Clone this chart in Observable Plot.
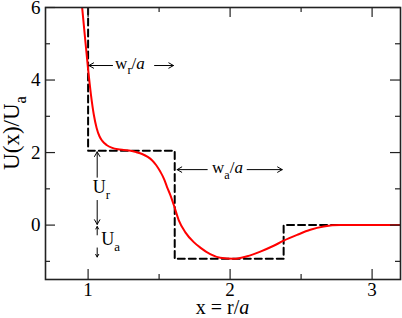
<!DOCTYPE html>
<html><head><meta charset="utf-8">
<script src="https://cdn.jsdelivr.net/npm/d3@7"></script>
<script src="https://cdn.jsdelivr.net/npm/@observablehq/plot@0.6"></script>
<style>
html,body{margin:0;padding:0;background:#fff;}
svg{display:block}
</style></head><body><div id="chart"></div>
<script>
// axis domains and ticks
const xDomain = [0.7, 3.2];
const yDomain = [-1.5, 6];
const xTicks = [1, 2, 3];
const xMinor = [1.5, 2.5];
const yTicks = [0, 2, 4, 6];
const yMinor = [-1, 1, 3, 5];

// red potential curve U(x)/Ua
const curveX = [0.958, 0.98, 1.0, 1.02, 1.04, 1.06, 1.08, 1.10, 1.13, 1.17, 1.21, 1.25, 1.30, 1.34, 1.38, 1.42, 1.45, 1.48, 1.509, 1.535, 1.556, 1.58, 1.603, 1.638, 1.685, 1.744, 1.79, 1.86, 1.93, 2.025, 2.12, 2.213, 2.307, 2.377, 2.472, 2.565, 2.659, 2.777, 2.9, 3.05, 3.2];
const curveY = [6.0, 5.1, 4.3, 3.6, 3.05, 2.68, 2.45, 2.32, 2.21, 2.13, 2.09, 2.07, 2.05, 2.01, 1.96, 1.88, 1.79, 1.65, 1.47, 1.27, 1.05, 0.82, 0.56, 0.14, -0.2, -0.47, -0.62, -0.8, -0.9, -0.93, -0.86, -0.73, -0.57, -0.43, -0.27, -0.13, -0.04, 0.0, 0.0, 0.0, 0.0];

// dashed square-well step potential
const stepX = [1.0, 1.0, 1.61, 1.61, 2.377, 2.377, 3.2];
const stepY = [6.0, 2.05, 2.05, -0.93, -0.93, 0, 0];

// annotation arrows (data units)
const arrowX1 = [1.172, 1.468, 1.839, 2.120, 1.064, 1.064, 1.064, 1.064];
const arrowY1 = [4.40, 4.40, 1.53, 1.53, 1.32, 0.68, -0.27, -0.63];
const arrowX2 = [1.006, 1.601, 1.627, 2.367, 1.064, 1.064, 1.064, 1.064];
const arrowY2 = [4.40, 4.40, 1.53, 1.53, 2.02, 0.02, -0.04, -0.88];

// annotation labels
const annX = [1.298, 1.985, 1.036, 1.097];
const annY = [4.30, 1.41, 0.86, -0.57];
const annAnchor = ["middle", "middle", "start", "start"];
const annParts = [
  [{t: "w"}, {t: "r", sub: true}, {t: "/"}, {t: "a", it: true}],
  [{t: "w"}, {t: "a", sub: true}, {t: "/"}, {t: "a", it: true}],
  [{t: "U"}, {t: "r", sub: true}],
  [{t: "U"}, {t: "a", sub: true}]
];
const annSize = [17, 17, 18, 18];

const curve = curveX.map((x, i) => ({x, y: curveY[i]}));
const step = stepX.map((x, i) => ({x, y: stepY[i]}));
const arrows = arrowX1.map((x1, i) => ({x1, y1: arrowY1[i], x2: arrowX2[i], y2: arrowY2[i]}));

const W = 402, H = 318, mL = 45, mR = 2, mT = 7, mB = 39;
const fw = W - mL - mR, fh = H - mT - mB;
const serif = "'Liberation Serif', 'Times New Roman', serif";

const chart = Plot.plot({
  width: W, height: H,
  marginLeft: mL, marginRight: mR, marginTop: mT, marginBottom: mB,
  x: {domain: xDomain},
  y: {domain: yDomain},
  style: {fontFamily: serif, background: "white", color: "black", overflow: "visible"},
  marks: [
    Plot.line(step, {x: "x", y: "y", stroke: "black", strokeWidth: 2, strokeDasharray: "7,4", clip: true}),
    Plot.line(curve, {x: "x", y: "y", stroke: "#ff0000", strokeWidth: 2, curve: "monotone-x", clip: true}),
    Plot.arrow(arrows, {x1: "x1", y1: "y1", x2: "x2", y2: "y2", stroke: "black", strokeWidth: 1, headLength: 8, headAngle: 60}),
    Plot.frame({stroke: "#222", strokeWidth: 1.6}),
    Plot.ruleX(xTicks, {insetTop: fh - 10, stroke: "#222", strokeWidth: 1.2}),
    Plot.ruleX(xTicks, {insetBottom: fh - 10, stroke: "#222", strokeWidth: 1.2}),
    Plot.ruleX(xMinor, {insetTop: fh - 5, stroke: "#222", strokeWidth: 1.2}),
    Plot.ruleX(xMinor, {insetBottom: fh - 5, stroke: "#222", strokeWidth: 1.2}),
    Plot.ruleY(yTicks, {insetRight: fw - 10, stroke: "#222", strokeWidth: 1.2}),
    Plot.ruleY(yTicks, {insetLeft: fw - 10, stroke: "#222", strokeWidth: 1.2}),
    Plot.ruleY(yMinor, {insetRight: fw - 5, stroke: "#222", strokeWidth: 1.2}),
    Plot.ruleY(yMinor, {insetLeft: fw - 5, stroke: "#222", strokeWidth: 1.2}),
    Plot.axisX({ticks: xTicks, tickSize: 0, tickPadding: 3, fontSize: 19, tickFormat: (d) => String(d), label: null}),
    Plot.axisY({ticks: yTicks, tickSize: 0, tickPadding: 5, fontSize: 19, tickFormat: (d) => String(d), label: null})
  ]
});

document.getElementById("chart").appendChild(chart);

const sx = chart.scale("x"), sy = chart.scale("y");
const svg = d3.select(chart);

function rich(x, y, parts, size, anchor, rotate) {
  const t = svg.append("text")
    .attr("font-size", size)
    .attr("text-anchor", anchor)
    .attr("fill", "black");
  if (rotate) t.attr("transform", `translate(${x},${y}) rotate(-90)`);
  else t.attr("x", x).attr("y", y);
  let shift = 0;
  for (const p of parts) {
    const ts = t.append("tspan").text(p.t);
    const target = p.sub ? 0.3 * size : 0;
    if (target !== shift) { ts.attr("dy", target - shift); shift = target; }
    if (p.sub) ts.attr("font-size", size * 0.72);
    if (p.it) ts.attr("font-style", "italic");
  }
}

annParts.forEach((parts, i) => {
  rich(sx.apply(annX[i]), sy.apply(annY[i]), parts, annSize[i], annAnchor[i], false);
});

// axis titles
rich(mL + fw / 2, H - 4.5, [{t: "x = r/"}, {t: "a", it: true}], 20, "middle", false);
rich(19, mT + fh / 2 - 10, [{t: "U(x)/U"}, {t: "a", sub: true}], 23, "middle", true);

// force serif face on every text, including Plot's axis labels
svg.selectAll("text").style("font-family", serif);
</script>
</body></html>
